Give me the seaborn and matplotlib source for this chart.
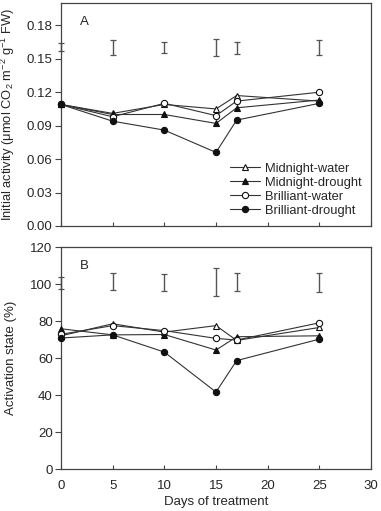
import matplotlib
matplotlib.use("Agg")
import matplotlib.pyplot as plt
import seaborn as sns
import pandas as pd
import numpy as np

days = [0, 5, 10, 15, 17, 25]
series = ["Midnight-water", "Midnight-drought", "Brilliant-water", "Brilliant-drought"]

# Panel A: initial activity
mw_a = [0.109, 0.101, 0.109, 0.105, 0.117, 0.112]
md_a = [0.109, 0.100, 0.100, 0.092, 0.106, 0.113]
bw_a = [0.109, 0.098, 0.110, 0.099, 0.112, 0.120]
bd_a = [0.109, 0.094, 0.086, 0.066, 0.095, 0.110]

# Panel B: activation state
mw_b = [72.0, 78.5, 74.0, 77.5, 69.5, 76.5]
md_b = [75.8, 72.5, 72.7, 64.3, 71.5, 72.0]
bw_b = [72.8, 77.5, 74.8, 70.6, 69.7, 79.0]
bd_b = [70.8, 72.5, 63.2, 41.6, 58.6, 70.2]

# LSD bars (center, half length)
lsd_a_center = [0.1605, 0.160, 0.160, 0.160, 0.1596, 0.160]
lsd_a_half = [0.0035, 0.0065, 0.005, 0.0075, 0.005, 0.0065]
lsd_b_center = [100.5, 101.2, 100.8, 101.0, 101.0, 100.8]
lsd_b_half = [3.3, 4.5, 4.5, 7.5, 4.7, 4.9]

sns.set_style("ticks")
plt.rcParams['font.family'] = ['Liberation Sans', 'DejaVu Sans']
plt.rcParams['mathtext.fontset'] = 'custom'
plt.rcParams['mathtext.rm'] = 'Liberation Sans'
plt.rcParams['mathtext.it'] = 'Liberation Sans'

fig = plt.figure(figsize=(3.81, 5.11), dpi=100)
axA = fig.add_axes([61/381, 1-226/511, 310/381, 223/511])
axB = fig.add_axes([61/381, 1-469/511, 310/381, 222/511])

styles = {
    "Midnight-water": dict(marker="^", mfc="white"),
    "Midnight-drought": dict(marker="^", mfc="#111111"),
    "Brilliant-water": dict(marker="o", mfc="white"),
    "Brilliant-drought": dict(marker="o", mfc="#111111"),
}

def draw(ax, vals, c, h):
    for name, v in zip(series, vals):
        df = pd.DataFrame({"day": days, "val": v})
        st = styles[name]
        sns.lineplot(data=df, x="day", y="val", ax=ax, color="#333333", lw=0.8,
                     marker=st["marker"], markersize=4.5, markerfacecolor=st["mfc"],
                     markeredgecolor="#111111", markeredgewidth=0.8, label=name,
                     clip_on=False, zorder=3)
    ax.errorbar(days, c, yerr=h, fmt="none", ecolor="#555555", elinewidth=1.0,
                capsize=2.5, capthick=0.9, clip_on=False, zorder=2)

draw(axA, [mw_a, md_a, bw_a, bd_a], lsd_a_center, lsd_a_half)
draw(axB, [mw_b, md_b, bw_b, bd_b], lsd_b_center, lsd_b_half)

for ax in (axA, axB):
    ax.set_xlim(0, 30)
    for s in ax.spines.values():
        s.set_visible(True)
        s.set_color("#444444")
        s.set_linewidth(0.9)
    ax.tick_params(axis="x", direction="in", length=3, width=0.8, color="#444444",
                   labelsize=9.5, pad=8)
    ax.tick_params(axis="y", direction="out", length=4, width=0.8, color="#444444",
                   labelsize=9.5, pad=2)
    ax.set_xticks([0, 5, 10, 15, 20, 25, 30])

axA.set_ylim(0, 0.2)
axA.set_yticks([0.0, 0.03, 0.06, 0.09, 0.12, 0.15, 0.18])
axA.set_yticklabels(["0.00", "0.03", "0.06", "0.09", "0.12", "0.15", "0.18"])
axA.set_xticklabels([])
axA.set_xlabel("")
axA.set_ylabel("Initial activity (\u03bcmol CO$_2$ m$^{-2}$ g$^{-1}$ FW)", fontsize=9.3)
axA.yaxis.set_label_coords(-0.142, 0.5)
axA.text(0.06, 0.94, "A", transform=axA.transAxes, fontsize=9.5, va="top")

leg = axA.legend(loc="lower right", bbox_to_anchor=(1.0, 0.0), frameon=False,
                 fontsize=9.3, handlelength=2.3, handletextpad=0.45, labelspacing=0.15,
                 borderaxespad=0.3)

axB.set_ylim(0, 120)
axB.set_yticks([0, 20, 40, 60, 80, 100, 120])
axB.set_xticklabels(["0", "5", "10", "15", "20", "25", "30"])
axB.set_xlabel("Days of treatment", fontsize=9.5, labelpad=3)
axB.set_ylabel("Activation state (%)", fontsize=9.5)
axB.yaxis.set_label_coords(-0.142, 0.5)
axB.text(0.06, 0.94, "B", transform=axB.transAxes, fontsize=9.5, va="top")
if axB.get_legend():
    axB.get_legend().remove()

fig.savefig("out.png", dpi=100)
